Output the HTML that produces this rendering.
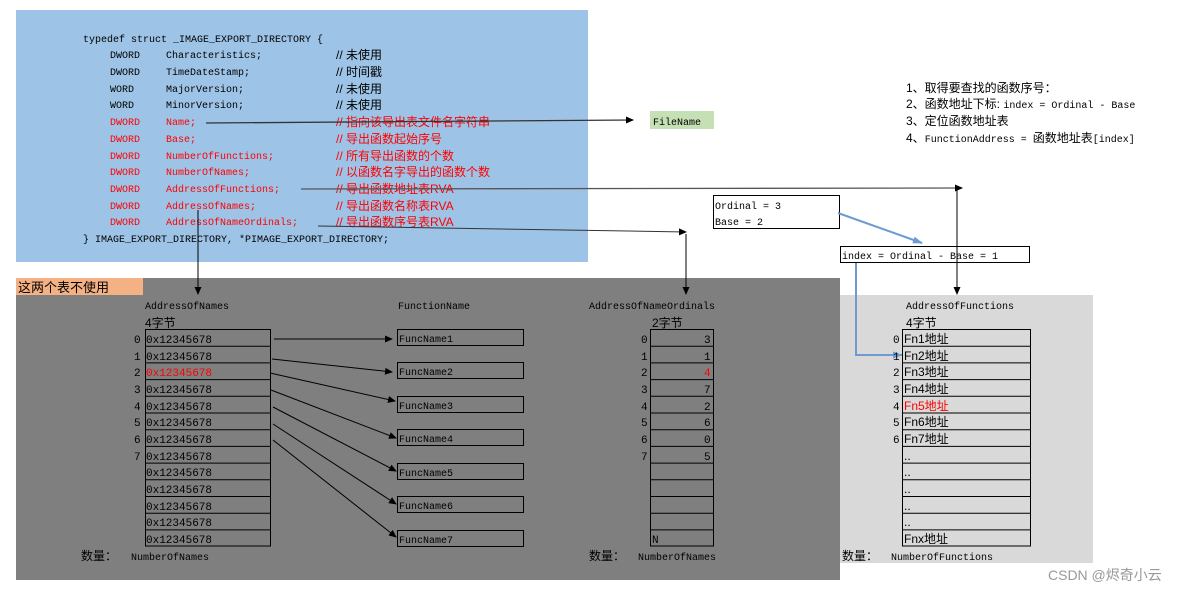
<!DOCTYPE html>
<html><head><meta charset="utf-8"><style>
html,body{margin:0;padding:0;background:#fff}
svg{display:block}
.m{font-family:"Liberation Mono","Noto Sans CJK SC",monospace;font-size:10px;fill:#000}
.c{font-family:"Liberation Sans","Noto Sans CJK SC",sans-serif;font-size:12px;fill:#000}
.r{fill:#ff0000}
</style></head><body>
<svg width="1200" height="592" viewBox="0 0 1200 592" xmlns="http://www.w3.org/2000/svg">
<defs>
<marker id="a" markerWidth="8" markerHeight="8" refX="7" refY="4" orient="auto" markerUnits="userSpaceOnUse"><path d="M0,0.5 L8,4 L0,7.5z" fill="#000"/></marker>
<marker id="b" markerWidth="10" markerHeight="8" refX="9" refY="4" orient="auto" markerUnits="userSpaceOnUse"><path d="M0,0.5 L10,4 L0,7.5z" fill="#6d9bd1"/></marker>
</defs>
<!-- panels -->
<rect x="16" y="10" width="572" height="252" fill="#9dc3e6"/>
<rect x="16" y="278" width="824" height="302" fill="#7f7f7f"/>
<rect x="16" y="278" width="127" height="17" fill="#f4b183"/>
<text x="18" y="292" class="c" style="font-size:13px">这两个表不使用</text>
<rect x="840" y="295" width="253" height="268" fill="#d9d9d9"/>

<!-- code -->
<g class="m">
<text x="83" y="42">typedef struct _IMAGE_EXPORT_DIRECTORY {</text>
<text x="110" y="58">DWORD</text><text x="166" y="58">Characteristics;</text>
<text x="110" y="75">DWORD</text><text x="166" y="75">TimeDateStamp;</text>
<text x="110" y="92">WORD</text><text x="166" y="92">MajorVersion;</text>
<text x="110" y="108">WORD</text><text x="166" y="108">MinorVersion;</text>
<g class="r">
<text x="110" y="125" class="r">DWORD</text><text x="166" y="125" class="r">Name;</text>
<text x="110" y="142" class="r">DWORD</text><text x="166" y="142" class="r">Base;</text>
<text x="110" y="159" class="r">DWORD</text><text x="166" y="159" class="r">NumberOfFunctions;</text>
<text x="110" y="175" class="r">DWORD</text><text x="166" y="175" class="r">NumberOfNames;</text>
<text x="110" y="192" class="r">DWORD</text><text x="166" y="192" class="r">AddressOfFunctions;</text>
<text x="110" y="209" class="r">DWORD</text><text x="166" y="209" class="r">AddressOfNames;</text>
<text x="110" y="225" class="r">DWORD</text><text x="166" y="225" class="r">AddressOfNameOrdinals;</text>
</g>
<text x="83" y="242">} IMAGE_EXPORT_DIRECTORY, *PIMAGE_EXPORT_DIRECTORY;</text>
</g>
<g class="c">
<text x="336" y="59">// 未使用</text>
<text x="336" y="76">// 时间戳</text>
<text x="336" y="93">// 未使用</text>
<text x="336" y="109">// 未使用</text>
<text x="336" y="126" class="r">// 指向该导出表文件名字符串</text>
<text x="336" y="143" class="r">// 导出函数起始序号</text>
<text x="336" y="160" class="r">// 所有导出函数的个数</text>
<text x="336" y="176" class="r">// 以函数名字导出的函数个数</text>
<text x="336" y="193" class="r">// 导出函数地址表RVA</text>
<text x="336" y="210" class="r">// 导出函数名称表RVA</text>
<text x="336" y="226" class="r">// 导出函数序号表RVA</text>
</g>

<!-- FileName -->
<rect x="650" y="111" width="64" height="18" fill="#c5e0b4"/>
<text x="653" y="125" class="m">FileName</text>

<!-- notes -->
<text x="906" y="92" class="c">1、取得要查找的函数序号：</text>
<text x="906" y="108" class="c">2、函数地址下标: <tspan class="m" style="font-size:10px">index = Ordinal - Base</tspan></text>
<text x="906" y="125" class="c">3、定位函数地址表</text>
<text x="906" y="142" class="c">4、<tspan class="m" style="font-size:10px">FunctionAddress = </tspan>函数地址表<tspan class="m" style="font-size:10px">[index]</tspan></text>

<!-- connectors -->
<g stroke="#000" stroke-width="1" fill="none">
<line x1="206" y1="123" x2="633" y2="120" stroke="#333" stroke-width="1.3" marker-end="url(#a)"/>
<line x1="301" y1="189" x2="962" y2="188" stroke="#555" stroke-width="1.3" marker-end="url(#a)"/>
<line x1="957" y1="190" x2="957" y2="294" marker-end="url(#a)"/>
<line x1="318" y1="226" x2="686" y2="232" stroke="#333" marker-end="url(#a)"/>
<line x1="686" y1="234" x2="686" y2="294" marker-end="url(#a)"/>
<line x1="198" y1="210" x2="198" y2="294" marker-end="url(#a)"/>
<line x1="274" y1="339" x2="392" y2="339" marker-end="url(#a)"/>
<line x1="272" y1="359" x2="392" y2="372" marker-end="url(#a)"/>
<line x1="270" y1="373" x2="395" y2="401" marker-end="url(#a)"/>
<line x1="271" y1="390" x2="396" y2="438" marker-end="url(#a)"/>
<line x1="273" y1="407" x2="396" y2="471" marker-end="url(#a)"/>
<line x1="273" y1="424" x2="396" y2="504" marker-end="url(#a)"/>
<line x1="273" y1="440" x2="396" y2="537" marker-end="url(#a)"/>
</g>

<!-- ordinal / index boxes -->
<rect x="713.5" y="195.5" width="126" height="33" fill="#fff" stroke="#000"/>
<text x="715" y="209" class="m">Ordinal = 3</text>
<text x="715" y="225" class="m">Base = 2</text>
<rect x="840.5" y="246.5" width="189" height="16" fill="#fff" stroke="#000"/>
<text x="842" y="259" class="m">index = Ordinal - Base = 1</text>
<line x1="957" y1="246" x2="957" y2="263" stroke="#000"/>
<line x1="838" y1="213" x2="922" y2="243" stroke="#6d9bd1" stroke-width="2" marker-end="url(#b)"/>
<polyline points="856,263 856,355 902,355" fill="none" stroke="#6d9bd1" stroke-width="2" marker-end="url(#b)"/>

<!-- AddressOfNames table -->
<text x="145" y="309" class="m">AddressOfNames</text>
<text x="145" y="327" class="c">4字节</text>
<g fill="none" stroke="#000">
<rect x="145.5" y="329.5" width="125" height="216.5"/>
<path d="M145 346.2H270M145 362.9H270M145 379.6H270M145 396.3H270M145 413H270M145 429.7H270M145 446.4H270M145 463.1H270M145 479.8H270M145 496.5H270M145 513.2H270M145 529.9H270"/>
</g>
<g class="m" style="font-size:11px">
<text x="146" y="343">0x12345678</text><text x="146" y="360">0x12345678</text><text x="146" y="376" class="r">0x12345678</text><text x="146" y="393">0x12345678</text><text x="146" y="410">0x12345678</text><text x="146" y="426">0x12345678</text><text x="146" y="443">0x12345678</text><text x="146" y="460">0x12345678</text><text x="146" y="476">0x12345678</text><text x="146" y="493">0x12345678</text><text x="146" y="510">0x12345678</text><text x="146" y="526">0x12345678</text><text x="146" y="543">0x12345678</text>
<text x="134" y="343">0</text><text x="134" y="360">1</text><text x="134" y="376">2</text><text x="134" y="393">3</text><text x="134" y="410">4</text><text x="134" y="426">5</text><text x="134" y="443">6</text><text x="134" y="460">7</text>
</g>
<text x="81" y="560" class="c">数量：</text><text x="131" y="560" class="m">NumberOfNames</text>

<!-- FunctionName -->
<text x="398" y="309" class="m">FunctionName</text>
<g fill="none" stroke="#000">
<rect x="397.5" y="329.5" width="126" height="16"/>
<rect x="397.5" y="362.5" width="126" height="16"/>
<rect x="397.5" y="396.5" width="126" height="16"/>
<rect x="397.5" y="429.5" width="126" height="16"/>
<rect x="397.5" y="463.5" width="126" height="16"/>
<rect x="397.5" y="496.5" width="126" height="16"/>
<rect x="397.5" y="530.5" width="126" height="16"/>
</g>
<g class="m">
<text x="399" y="342">FuncName1</text><text x="399" y="375">FuncName2</text><text x="399" y="409">FuncName3</text><text x="399" y="442">FuncName4</text><text x="399" y="476">FuncName5</text><text x="399" y="509">FuncName6</text><text x="399" y="543">FuncName7</text>
</g>

<!-- Ordinals table -->
<text x="589" y="309" class="m">AddressOfNameOrdinals</text>
<text x="652" y="327" class="c">2字节</text>
<g fill="none" stroke="#000">
<rect x="650.5" y="329.5" width="63" height="216.5"/>
<path d="M650 346.2H713M650 362.9H713M650 379.6H713M650 396.3H713M650 413H713M650 429.7H713M650 446.4H713M650 463.1H713M650 479.8H713M650 496.5H713M650 513.2H713M650 529.9H713"/>
</g>
<g class="m" style="font-size:11px">
<text x="704" y="343">3</text><text x="704" y="360">1</text><text x="704" y="376" class="r">4</text><text x="704" y="393">7</text><text x="704" y="410">2</text><text x="704" y="426">6</text><text x="704" y="443">0</text><text x="704" y="460">5</text>
<text x="641" y="343">0</text><text x="641" y="360">1</text><text x="641" y="376">2</text><text x="641" y="393">3</text><text x="641" y="410">4</text><text x="641" y="426">5</text><text x="641" y="443">6</text><text x="641" y="460">7</text>
<text x="652" y="543">N</text>
</g>
<text x="589" y="560" class="c">数量：</text><text x="638" y="560" class="m">NumberOfNames</text>

<!-- Functions table -->
<text x="906" y="309" class="m">AddressOfFunctions</text>
<text x="906" y="327" class="c">4字节</text>
<g fill="none" stroke="#000">
<rect x="902.5" y="329.5" width="128" height="216.5"/>
<path d="M902 346.2H1030M902 362.9H1030M902 379.6H1030M902 396.3H1030M902 413H1030M902 429.7H1030M902 446.4H1030M902 463.1H1030M902 479.8H1030M902 496.5H1030M902 513.2H1030M902 529.9H1030"/>
</g>
<g class="c">
<text x="904" y="343">Fn1地址</text><text x="904" y="360">Fn2地址</text><text x="904" y="376">Fn3地址</text><text x="904" y="393">Fn4地址</text><text x="904" y="410" class="r">Fn5地址</text><text x="904" y="426">Fn6地址</text><text x="904" y="443">Fn7地址</text>
<text x="904" y="460">..</text><text x="904" y="476">..</text><text x="904" y="493">..</text><text x="904" y="510">..</text><text x="904" y="526">..</text><text x="904" y="543">Fnx地址</text>
</g>
<g class="m" style="font-size:11px">
<text x="893" y="343">0</text><text x="893" y="360">1</text><text x="893" y="376">2</text><text x="893" y="393">3</text><text x="893" y="410">4</text><text x="893" y="426">5</text><text x="893" y="443">6</text>
</g>
<text x="842" y="560" class="c">数量：</text><text x="891" y="560" class="m">NumberOfFunctions</text>

<text x="1048" y="580" class="c" style="fill:#999;font-size:14px">CSDN @烬奇小云</text>
</svg>
</body></html>
